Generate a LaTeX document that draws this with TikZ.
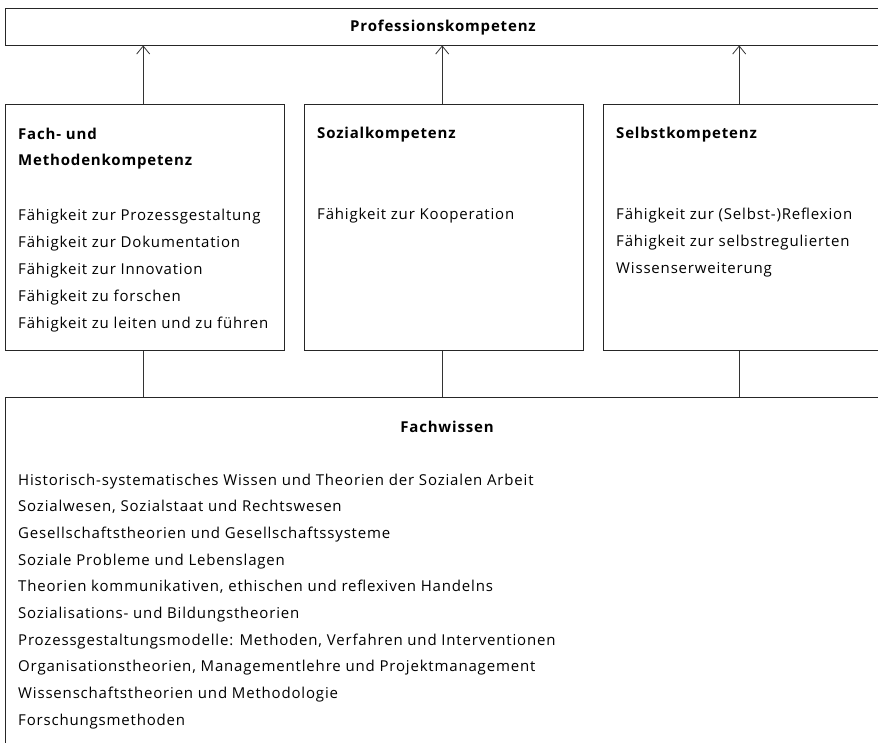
\documentclass[tikz,border=0pt]{standalone}
\usepackage{fontspec}
\setmainfont{Open Sans}[LetterSpace=5.5]
\usetikzlibrary{positioning,arrows.meta}

\tikzset{
  frame/.style={draw=black!85, line width=0.9pt, inner sep=0pt, anchor=north west},
  kbox/.style={frame, minimum width=279.5pt, minimum height=246pt},
  txt/.style={anchor=base west, inner sep=0pt, font=\fontsize{15}{17}\selectfont},
  head/.style={inner sep=0pt, font=\fontsize{15}{17}\selectfont\bfseries},
  link/.style={draw=black!80, line width=0.8pt},
}

\begin{document}
\begin{tikzpicture}[x=1pt,y=1pt]
\useasboundingbox (0,0) rectangle (878,-742);
\clip (0,0) rectangle (878,-742);

% top
\node[frame, minimum width=877.5pt, minimum height=36.5pt] (prof) at (4.5,-8) {};
\node[head, anchor=base] (proft) at (443,-31) {Professionskompetenz};

% three competence boxes
\node[kbox] (b1) at (4.5,-104) {};
\node[kbox] (b2) at (303.5,-104) {};
\node[kbox] (b3) at (602.5,-104) {};

\node[head, anchor=base west] (b1t) at (18,-139) {Fach- und};
\node[head, anchor=base west] (b1u) at (18,-165.5) {Methodenkompetenz};
\node[head, anchor=base west] (b2t) at (317,-138) {Sozialkompetenz};
\node[head, anchor=base west] (b3t) at (616,-138) {Selbstkompetenz};

\node[txt] (m1) at (18,-220) {Fähigkeit zur Prozessgestaltung};
\node[txt] (m2) at (18,-247) {Fähigkeit zur Dokumentation};
\node[txt] (m3) at (18,-274) {Fähigkeit zur Innovation};
\node[txt] (m4) at (18,-301) {Fähigkeit zu forschen};
\node[txt] (m5) at (18,-328) {Fähigkeit zu leiten und zu führen};

\node[txt] (s1) at (317,-219) {Fähigkeit zur Kooperation};

\node[txt] (r1) at (616,-219) {Fähigkeit zur (Selbst-)Reflexion};
\node[txt] (r2) at (616,-246) {Fähigkeit zur selbstregulierten};
\node[txt] (r3) at (616,-273) {Wissenserweiterung};

% bottom
\node[frame, minimum width=877.5pt, minimum height=400pt] (fw) at (4.5,-396.5) {};
\node[head, anchor=base] (fwt) at (447,-432) {Fachwissen};

\foreach \t [count=\i] in {
  Historisch-systematisches Wissen und Theorien der Sozialen Arbeit,
  {Sozialwesen, Sozialstaat und Rechtswesen},
  Gesellschaftstheorien und Gesellschaftssysteme,
  Soziale Probleme und Lebenslagen,
  {Theorien kommunikativen, ethischen und reflexiven Handelns},
  Sozialisations- und Bildungstheorien,
  {Prozessgestaltungsmodelle: Methoden, Verfahren und Interventionen},
  {Organisationstheorien, Managementlehre und Projektmanagement},
  Wissenschaftstheorien und Methodologie,
  Forschungsmethoden}
  \node[txt] (f\i) at (18,-485-26.7*\i+26.7) {\t};

% connectors
\foreach \b/\s in {b1/-1.5,b2/-1.5,b3/-3.5}{
  \draw[link, -{Straight Barb[length=8pt,width=13pt]}]
    ([xshift=\s pt]\b.north) -- ([xshift=\s pt]\b.north |- prof.south);
  \draw[link] ([xshift=\s pt]\b.south) -- ([xshift=\s pt]\b.south |- fw.north);
}
\end{tikzpicture}
\end{document}
